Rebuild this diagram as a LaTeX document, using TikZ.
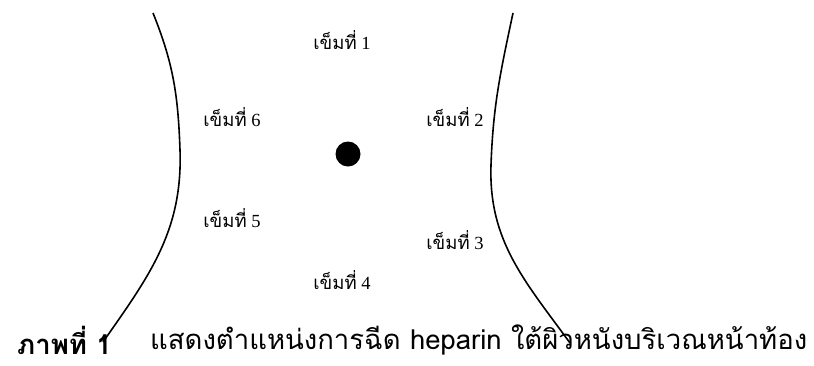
\documentclass[tikz,border=0pt]{standalone}
\usepackage{fontspec}
\setmainfont{Liberation Serif}
\newfontfamily\thaifont[Script=Thai]{Loma}
\usepackage{tikz}

\begin{document}
\begin{tikzpicture}[
  x=1pt, y=-1pt,
  needle/.style={font=\fontsize{18.5}{22}\selectfont, inner sep=0pt},
  skin/.style={line width=1.6pt},
  caption/.style={font=\thaifont\fontsize{27.5}{32}\selectfont, inner sep=0pt, anchor=west}
]
\useasboundingbox (0,0) rectangle (814,365);
% injection site
\fill (348,154) circle (12.5);
\node[needle] (n1) at (342,40) {{\thaifont เข็มที่} 1};
\node[needle] (n2) at (455,117) {{\thaifont เข็มที่} 2};
\node[needle] (n3) at (455,240) {{\thaifont เข็มที่} 3};
\node[needle] (n4) at (342,280) {{\thaifont เข็มที่} 4};
\node[needle] (n5) at (232,218) {{\thaifont เข็มที่} 5};
\node[needle] (n6) at (232,117) {{\thaifont เข็มที่} 6};
% skin folds
\coordinate (ltop) at (153,13);
\coordinate (lmid) at (180,150);
\coordinate (lbot) at (103,342);
\coordinate (rtop) at (513,13);
\coordinate (rmid) at (491,165);
\coordinate (rbot) at (570,343);
\draw[skin] (ltop) to[out=-68,in=92] (lmid) to[out=-88,in=55] (lbot);
\draw[skin] (rtop) to[out=-102,in=88] (rmid) to[out=-92,in=126] (rbot);
% caption
\node[caption, font=\thaifont\bfseries\fontsize{27.5}{32}\selectfont] (fig) at (17,340) {ภาพที่ 1};
\node[caption] (cap) at (150,340) {แสดงตำแหน่งการฉีด heparin ใต้ผิวหนังบริเวณหน้าท้อง};
\end{tikzpicture}
\end{document}
